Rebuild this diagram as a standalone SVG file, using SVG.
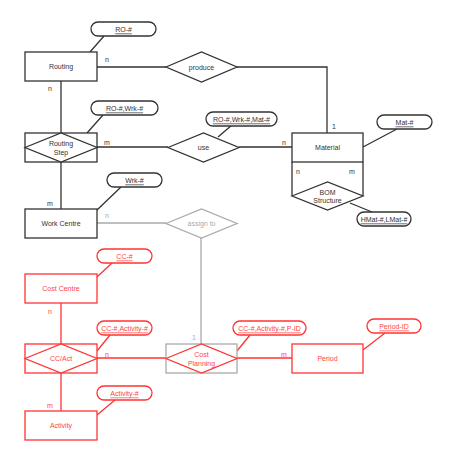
<svg xmlns="http://www.w3.org/2000/svg" width="454" height="452" viewBox="0 0 454 452">
<style>
text{font-family:"Liberation Sans",Arial,sans-serif;font-size:7px;text-anchor:middle;dominant-baseline:central}
.k{fill:#fff;stroke:#333;stroke-width:1.3}
.r{fill:#fff;stroke:#f33;stroke-width:1.3}
.g{fill:#fff;stroke:#aaa;stroke-width:1.3}
.kl{fill:none;stroke:#333;stroke-width:1.3}
.rl{fill:none;stroke:#f33;stroke-width:1.3}
.gl{fill:none;stroke:#aaa;stroke-width:1.3}
.kt{fill:#333}
.rt{fill:#f44}
.gt{fill:#aaa}
.u{text-decoration:underline}
</style>
<rect width="454" height="452" fill="#fff"/>
<g id="connectors">
<path class="kl" d="M97,67H166M237,67H327V133"/>
<path class="kl" d="M61,81V133M61,162V209"/>
<path class="kl" d="M97,147H168M239,147H292"/>
<path class="kl" d="M90,52L104,36M87,133L103,115M218,137L232,125M363,147L397,129M350,203L372,212M97,210L121,187"/>
<path class="gl" d="M97,223H166M201,238V344"/>
<path class="rl" d="M61,303V344M61,373V411M97,358H166M237,358H292"/>
<path class="rl" d="M97,277L112,263M97,351L110,335M237,351L250,335M363,350L385,333M97,415L115,400"/>
<text class="kt" x="107" y="59">n</text>
<text class="kt" x="50" y="88">n</text>
<text class="kt" x="107" y="142">m</text>
<text class="kt" x="284" y="142">n</text>
<text class="kt" x="334" y="126">1</text>
<text class="kt" x="298" y="171">n</text>
<text class="kt" x="352" y="171">m</text>
<text class="kt" x="50" y="203">m</text>
<text class="gt" x="107" y="215">n</text>
<text class="gt" x="194" y="337">1</text>
<text class="rt" x="50" y="311">n</text>
<text class="rt" x="107" y="354">n</text>
<text class="rt" x="284" y="354">m</text>
<text class="rt" x="50" y="405">m</text>
</g>
<g id="routing"><rect class="k" x="25" y="52" width="72" height="29"/><text class="kt" x="61" y="66.5">Routing</text></g>
<g id="ro"><rect class="k" x="91" y="22" width="65" height="14" rx="7"/><text class="kt u" x="123.5" y="29">RO-#</text></g>
<g id="produce"><polygon class="k" points="166,67 201.5,52 237,67 201.5,82"/><text class="kt" x="201.5" y="67">produce</text></g>
<g id="routing-step"><rect class="k" x="25" y="133" width="72" height="29"/><polygon class="k" points="25,147.5 61,133 97,147.5 61,162"/><text class="kt" x="61" y="143">Routing</text><text class="kt" x="61" y="152">Step</text></g>
<g id="ro-wrk"><rect class="k" x="91" y="101" width="67" height="14" rx="7"/><text class="kt u" x="124.5" y="108">RO-#,Wrk-#</text></g>
<g id="use"><polygon class="k" points="168,147.5 203.5,133 239,147.5 203.5,162"/><text class="kt" x="203.5" y="147.5">use</text></g>
<g id="ro-wrk-mat"><rect class="k" x="206" y="112" width="71" height="14" rx="7"/><text class="kt u" x="241.5" y="119">RO-#,Wrk-#,Mat-#</text></g>
<g id="material"><path class="kl" d="M292,162V196M363,162V196"/><rect class="k" x="292" y="133" width="71" height="29"/><text class="kt" x="327.5" y="147">Material</text></g>
<g id="mat"><rect class="k" x="377" y="115" width="55" height="14" rx="7"/><text class="kt u" x="404.5" y="122">Mat-#</text></g>
<g id="bom"><polygon class="k" points="292,196 327.5,182 363,196 327.5,210"/><text class="kt" x="327.5" y="192">BOM</text><text class="kt" x="327.5" y="200.5">Structure</text></g>
<g id="hmat"><rect class="k" x="357" y="212" width="54" height="14" rx="7"/><text class="kt u" x="384" y="219">HMat-#,LMat-#</text></g>
<g id="work-centre"><rect class="k" x="25" y="209" width="72" height="29"/><text class="kt" x="61" y="223.5">Work Centre</text></g>
<g id="wrk"><rect class="k" x="107" y="173" width="55" height="14" rx="7"/><text class="kt u" x="134.5" y="180">Wrk-#</text></g>
<g id="assign-to"><polygon class="g" points="166,223.5 201.5,209 237,223.5 201.5,238"/><text class="gt" x="201.5" y="223.5">assign to</text></g>
<g id="cost-centre"><rect class="r" x="25" y="274" width="72" height="29"/><text class="rt" x="61" y="288.5">Cost Centre</text></g>
<g id="cc"><rect class="r" x="97" y="249" width="55" height="14" rx="7"/><text class="rt u" x="124.5" y="256">CC-#</text></g>
<g id="cc-act"><rect class="r" x="25" y="344" width="72" height="29"/><polygon class="r" points="25,358.5 61,344 97,358.5 61,373"/><text class="rt" x="61" y="358.5">CC/Act</text></g>
<g id="cc-activity"><rect class="r" x="97" y="321" width="55" height="14" rx="7"/><text class="rt u" x="124.5" y="328">CC-#,Activity-#</text></g>
<g id="cost-planning"><rect class="g" x="166" y="344" width="71" height="29"/><polygon class="r" points="166,358.5 201.5,344 237,358.5 201.5,373"/><text class="rt" x="201.5" y="354.5">Cost</text><text class="rt" x="201.5" y="363">Planning</text></g>
<g id="cc-activity-pid"><rect class="r" x="233" y="321" width="73" height="14" rx="7"/><text class="rt u" x="269.5" y="328">CC-#,Activity-#,P-ID</text></g>
<g id="period"><rect class="r" x="292" y="344" width="71" height="29"/><text class="rt" x="327.5" y="358.5">Period</text></g>
<g id="period-id"><rect class="r" x="367" y="319" width="54" height="14" rx="7"/><text class="rt u" x="394" y="326">Period-ID</text></g>
<g id="activity"><rect class="r" x="25" y="411" width="72" height="29"/><text class="rt" x="61" y="425.5">Activity</text></g>
<g id="activity-id"><rect class="r" x="97" y="386" width="55" height="14" rx="7"/><text class="rt u" x="124.5" y="393">Activity-#</text></g>
</svg>
